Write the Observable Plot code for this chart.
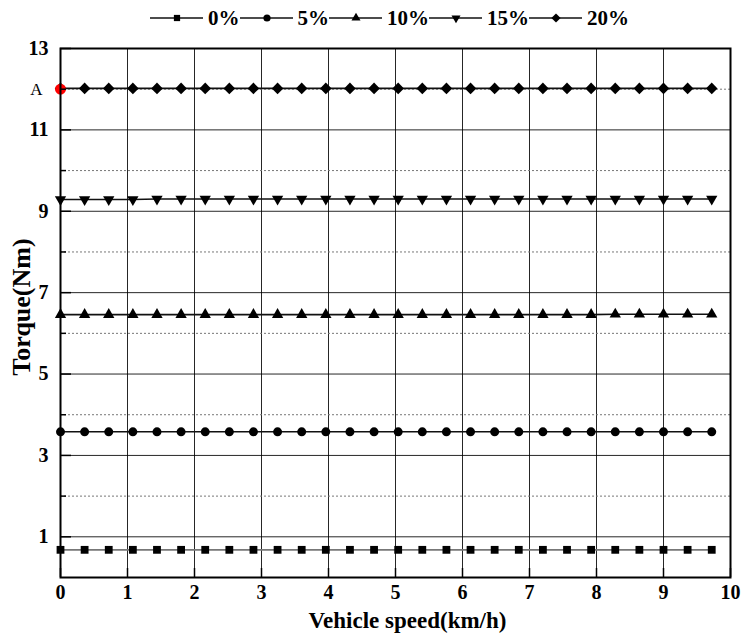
<!DOCTYPE html>
<html>
<head>
<meta charset="utf-8">
<script src="https://cdn.jsdelivr.net/npm/d3@7"></script>
<script src="https://cdn.jsdelivr.net/npm/@observablehq/plot@0.6"></script>
<style>
  html, body { margin: 0; padding: 0; background: #fff; }
  body { width: 748px; height: 633px; overflow: hidden; font-family: "Liberation Serif", "Times New Roman", serif; }
  #legend { height: 30px; padding-top: 3px; padding-left: 150px; display: flex; align-items: center; }
  #legend .item { display: flex; align-items: center; }
  #legend span { font-weight: bold; font-size: 21px; margin-left: 5px; color: #000; }
  #chart svg { display: block; overflow: visible; }
</style>
</head>
<body>
<div id="legend"></div>
<div id="chart"></div>
<script>
// ---- data ----
const speed = [0, 0.36, 0.72, 1.08, 1.44, 1.80, 2.16, 2.52, 2.88, 3.24, 3.60, 3.96, 4.32, 4.68,
               5.04, 5.40, 5.76, 6.12, 6.48, 6.84, 7.20, 7.56, 7.92, 8.28, 8.64, 9.00, 9.36, 9.72];
const seriesNames = ["0%", "5%", "10%", "15%", "20%"];
const torque0  = [0.68,0.68,0.68,0.68,0.68,0.68,0.68,0.68,0.68,0.68,0.68,0.68,0.68,0.68,0.68,0.68,0.68,0.68,0.68,0.68,0.68,0.68,0.68,0.68,0.68,0.68,0.68,0.68];
const torque5  = [3.58,3.58,3.58,3.58,3.58,3.58,3.58,3.58,3.58,3.58,3.58,3.58,3.58,3.58,3.58,3.58,3.58,3.58,3.58,3.58,3.58,3.58,3.58,3.58,3.58,3.58,3.58,3.58];
const torque10 = [6.46,6.46,6.46,6.46,6.46,6.46,6.46,6.46,6.46,6.46,6.46,6.46,6.46,6.46,6.46,6.46,6.46,6.46,6.46,6.46,6.46,6.46,6.46,6.47,6.47,6.47,6.47,6.47];
const torque15 = [9.29,9.29,9.29,9.29,9.30,9.30,9.30,9.30,9.30,9.30,9.30,9.30,9.30,9.30,9.30,9.30,9.30,9.30,9.30,9.30,9.30,9.30,9.30,9.30,9.30,9.30,9.30,9.30];
const torque20 = [12.02,12.02,12.02,12.02,12.02,12.02,12.02,12.02,12.02,12.02,12.02,12.02,12.02,12.02,12.02,12.02,12.02,12.02,12.02,12.02,12.02,12.02,12.02,12.02,12.02,12.02,12.02,12.02];
const pointA = {x: 0, y: 12, label: "A"};
const xTicks = [0,1,2,3,4,5,6,7,8,9,10];
const yMajorTicks = [1,3,5,7,9,11,13];
const yMinorTicks = [2,4,6,8,10,12];
const xLabel = "Vehicle speed(km/h)";
const yLabel = "Torque(Nm)";

// ---- styles ----
const FONT = "Liberation Serif";
const symbols = ["square", "circle", "triangle", "triangle", "diamond2"];
const rotates = [0, 0, 0, 180, 0];
const radii = [4.4, 4.5, 4.2, 4.2, 5.2];
const lineColors = ["#777", "#111", "#111", "#111", "#111"];

const allValues = [torque0, torque5, torque10, torque15, torque20];
const series = allValues.map((vals, i) => vals.map((v, j) => ({x: speed[j], y: v, s: seriesNames[i]})));

const marks = [
  Plot.gridX(xTicks.slice(1, -1), {stroke: "#000", strokeOpacity: 0.85, strokeWidth: 1}),
  Plot.gridY(yMajorTicks.slice(0, -1), {stroke: "#000", strokeOpacity: 0.85, strokeWidth: 1}),
  Plot.gridY(yMinorTicks, {stroke: "#777", strokeOpacity: 1, strokeWidth: 1, strokeDasharray: "2,2"}),
];
series.forEach((data, i) => {
  marks.push(Plot.line(data, {x: "x", y: "y", stroke: lineColors[i], strokeWidth: 1.6}));
  marks.push(Plot.dot(data, {x: "x", y: "y", symbol: () => symbols[i], fill: "#000", stroke: "none", r: radii[i], rotate: rotates[i]}));
});
marks.push(
  Plot.dot([pointA], {x: "x", y: "y", fill: "red", r: 5.5}),
  Plot.text([pointA], {x: "x", y: "y", text: "label", dx: -24, fontSize: 17, fontFamily: FONT, fill: "#000"}),
  // axes
  Plot.axisX({ticks: xTicks, tickSize: -9, tickFormat: () => "", strokeWidth: 1.5, label: null}),
  Plot.axisX({ticks: xTicks, tickSize: 0, tickPadding: 7, fontSize: 20, fontWeight: "bold", fontFamily: FONT, label: null}),
  Plot.axisY({ticks: yMajorTicks, tickSize: -11, tickFormat: () => "", strokeWidth: 1.5, label: null}),
  Plot.axisY({ticks: yMinorTicks, tickSize: -6, tickFormat: () => "", strokeWidth: 1.5, label: null}),
  Plot.axisY({ticks: yMajorTicks, tickSize: 0, tickPadding: 12, fontSize: 20, fontWeight: "bold", fontFamily: FONT, label: null}),
  Plot.text([xLabel], {frameAnchor: "bottom", dy: 50, dx: 12, fontSize: 23, fontWeight: "bold", fontFamily: FONT, fill: "#000"}),
  Plot.text([yLabel], {frameAnchor: "left", textAnchor: "middle", lineAnchor: "middle", dx: -39, dy: -6, rotate: -90, fontSize: 26, fontWeight: "bold", fontFamily: FONT, fill: "#000"}),
  Plot.frame({stroke: "#000", strokeWidth: 2})
);

const chart = Plot.plot({
  width: 748,
  height: 600,
  marginLeft: 60,
  marginRight: 18,
  marginTop: 15,
  marginBottom: 56,
  x: {domain: [0, 10]},
  y: {domain: [0, 13]},
  style: {fontFamily: FONT, color: "#000", background: "#fff"},
  marks
});
document.getElementById("chart").appendChild(chart);

// ---- legend ----
const legend = d3.select("#legend");
const symMap = {square: d3.symbolSquare, circle: d3.symbolCircle, triangle: d3.symbolTriangle, diamond2: d3.symbolDiamond2};
seriesNames.forEach((name, i) => {
  const item = legend.append("div").attr("class", "item");
  const svg = item.append("svg").attr("width", 53).attr("height", 20);
  svg.append("line").attr("x1", 0).attr("x2", 53).attr("y1", 10).attr("y2", 10)
    .attr("stroke", "#111").attr("stroke-width", 1.6);
  const r = radii[i] * 0.8;
  svg.append("path").attr("d", d3.symbol(symMap[symbols[i]], Math.PI * r * r)())
    .attr("transform", `translate(27,10) rotate(${rotates[i]})`).attr("fill", "#000");
  item.append("span").text(name);
});
</script>
</body>
</html>
